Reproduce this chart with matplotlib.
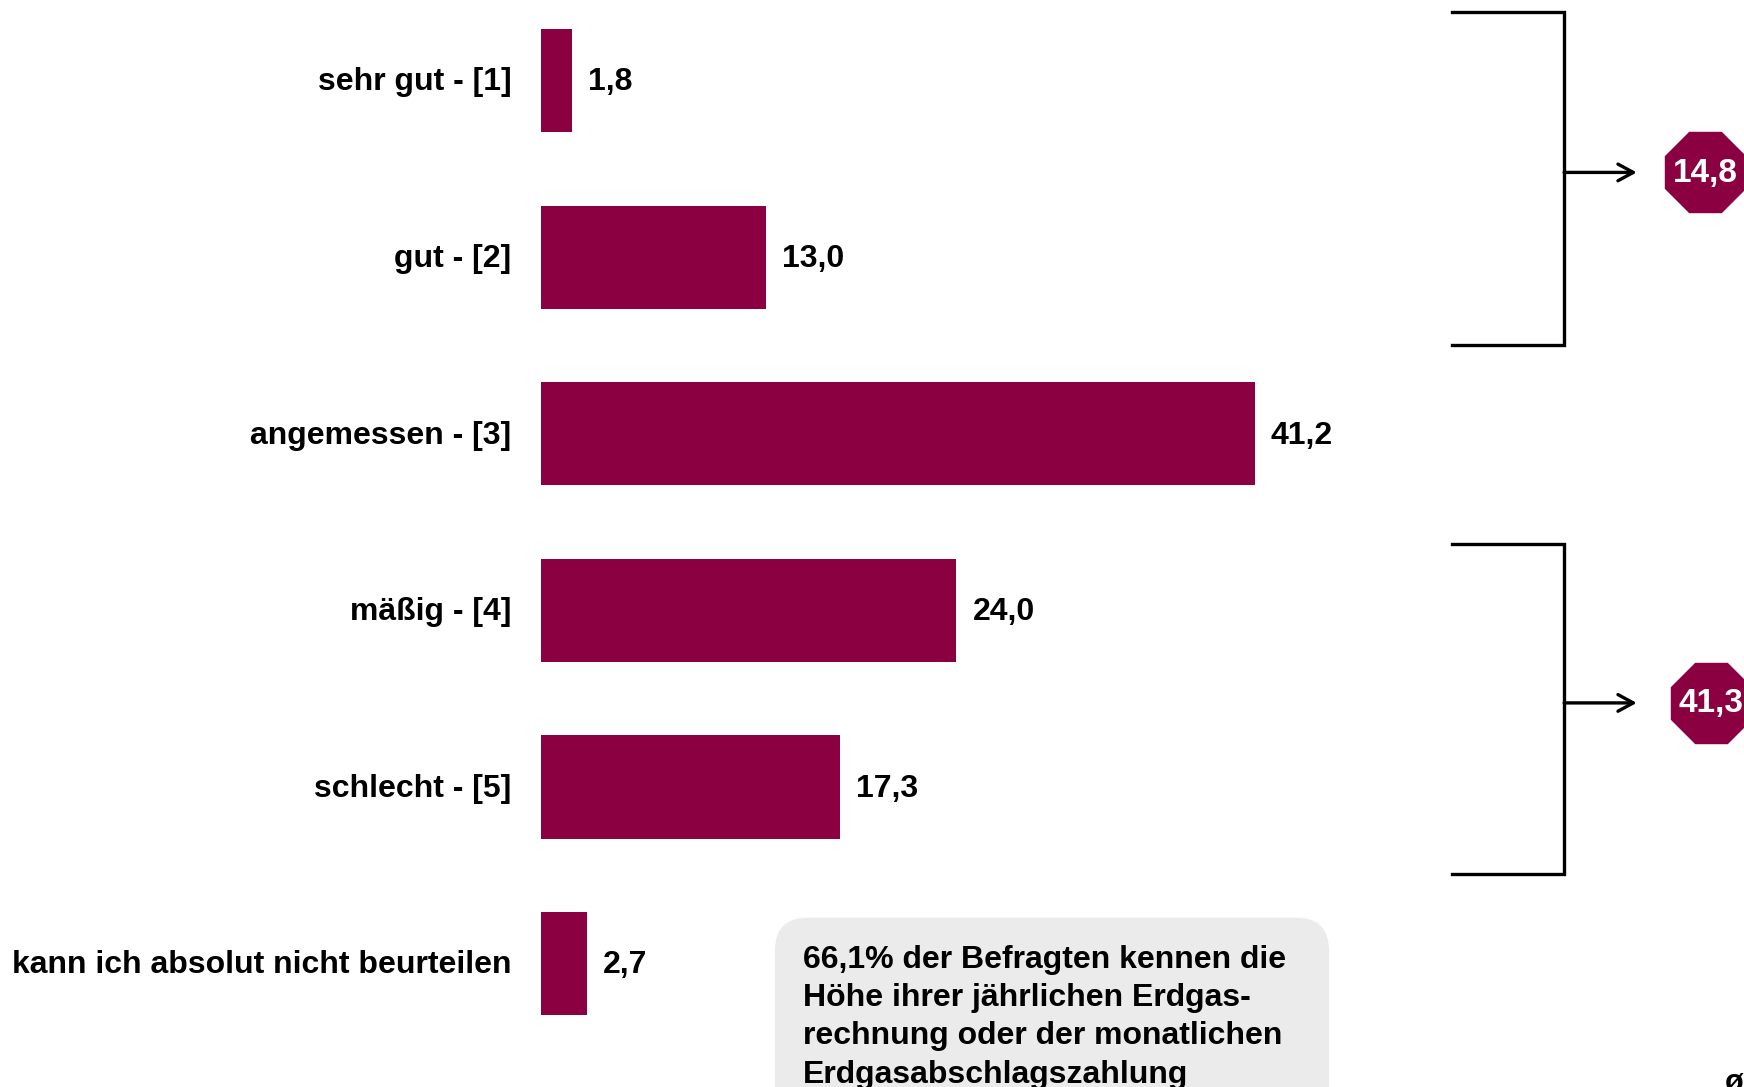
import matplotlib
matplotlib.use("Agg")
import matplotlib.pyplot as plt
from matplotlib.patches import FancyBboxPatch

categories = ["sehr gut - [1]", "gut - [2]", "angemessen - [3]", "mäßig - [4]",
              "schlecht - [5]", "kann ich absolut nicht beurteilen"]
values = [1.8, 13.0, 41.2, 24.0, 17.3, 2.7]
group_labels = ["14,8", "41,3"]
note_lines = ["66,1% der Befragten kennen die",
              "Höhe ihrer jährlichen Erdgas-",
              "rechnung oder der monatlichen",
              "Erdgasabschlagszahlung"]

BAR = "#8A0041"
fmt = lambda v: f"{v:.1f}".replace(".", ",")

fig = plt.figure(figsize=(17.44, 10.87), dpi=100)
ax = fig.add_axes([0, 0, 1, 1])
ax.set_xlim(-31.19, 69.44)
ax.set_ylim(5.699, -0.4564)
ax.axis("off")

ypos = list(range(len(categories)))
ax.barh(ypos, values, height=0.585, color=BAR)

lab_font = dict(family="Liberation Sans", fontweight="bold", fontsize=23)
for y, c, v in zip(ypos, categories, values):
    ax.text(-1.67, y + 0.01, c, ha="right", va="center", **lab_font)
    ax.text(v + 0.92, y + 0.01, fmt(v), ha="left", va="center", **lab_font)

# brackets: (top, bottom, arrow y, octagon x)
brackets = [(-0.388, 1.497, 0.52, 67.19), (2.624, 4.493, 3.524, 67.51)]
x_left, x_right, x_tip = 52.6, 59.06, 63.25
for (yt, yb, ya, xo), lab in zip(brackets, group_labels):
    ax.plot([x_left, x_right, x_right, x_left], [yt, yt, yb, yb], color="black",
            lw=2.4, solid_joinstyle="miter", clip_on=False)
    ax.annotate("", xy=(x_tip, ya), xytext=(x_right, ya),
                arrowprops=dict(arrowstyle="->,head_length=1.1,head_width=0.6",
                                color="black", lw=2.4, shrinkA=0, shrinkB=0))
    ax.plot([xo], [ya], marker="8", ms=62, color=BAR, mec=BAR, clip_on=False)
    ax.text(xo, ya + 0.005, lab, ha="center", va="center", color="white",
            fontsize=24, fontweight="bold", family="Liberation Sans")

# note box
box = FancyBboxPatch((13.52, 4.74), 45.5 - 13.52, 1.6,
                     boxstyle="round,pad=0,rounding_size=1.9",
                     mutation_aspect=0.0981, fc="#EBEBEB", ec="none", clip_on=False)
ax.add_patch(box)
for i, line in enumerate(note_lines):
    y = (960 + i * 38.2 - 80.6) / 176.6
    ax.text(15.14, y, line, ha="left", va="center", fontsize=23,
            fontweight="bold", family="Liberation Sans")

ax.text(68.9, (1068 - 80.6) / 176.6, "ø", ha="center", va="top", fontsize=22,
        fontweight="bold", family="Liberation Sans")

fig.savefig("out.png", dpi=100)
